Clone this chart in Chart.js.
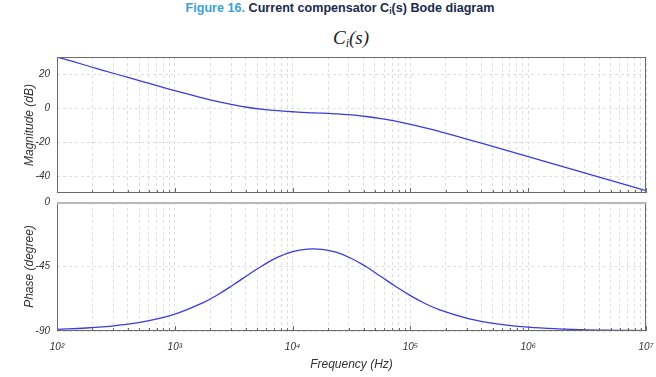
<!DOCTYPE html>
<html>
<head>
<meta charset="utf-8">
<script src="https://cdn.jsdelivr.net/npm/chart.js@4.4.1/dist/chart.umd.min.js"></script>
<style>
  body { margin: 0; width: 656px; height: 377px; background: #fff; position: relative; overflow: hidden;
         font-family: "Liberation Sans", Arial, sans-serif; }
  #fig { position: absolute; top: 1px; left: 0; width: 680px; text-align: center; font-size: 12.6px;
         font-weight: bold; color: #1b2a4e; }
  #fig .num { color: #3d9fd8; }
  #fig sub { font-size: 8.5px; vertical-align: -2px; }
  #math { position: absolute; top: 27px; left: 0; width: 702px; text-align: center; font-family: "Liberation Serif", serif;
          font-style: italic; font-size: 19px; color: #222; }
  #math sub { font-size: 12px; vertical-align: -3px; }
  .box { position: absolute; left: 0; width: 656px; }
  #magBox { top: 50px; height: 150px; }
  #phBox { top: 195px; height: 182px; }
</style>
</head>
<body>
<div id="fig"><span class="num">Figure 16.</span> Current compensator C<sub>i</sub>(s) Bode diagram</div>
<div id="math">C<sub>i</sub>(s)</div>
<div class="box" id="magBox"><canvas id="magChart"></canvas></div>
<div class="box" id="phBox"><canvas id="phChart"></canvas></div>
<script>
// frequency samples (Hz) and values
const freqs = [100, 178, 316, 562, 1000, 1778, 2371, 3162, 4217, 5623, 7499, 10000, 13335, 17783,
               23714, 31623, 42170, 56234, 74989, 100000, 133352, 177828, 316228, 562341,
               1000000, 1778279, 3162278, 5623413, 10000000];
const magnitudeDb = [30.0, 25.0, 20.0, 15.1, 10.2, 5.7, 3.6, 1.8, 0.3, -0.8, -1.6, -2.2, -2.7, -3.0,
                     -3.5, -4.1, -5.0, -6.2, -7.7, -9.6, -11.7, -13.9, -18.7, -23.6,
                     -28.6, -33.6, -38.6, -43.6, -48.6];
const phaseDeg = [-88.8, -87.9, -86.2, -83.3, -78.2, -69.8, -64.2, -57.6, -50.7, -44.1, -38.5, -34.6, -32.9, -33.1,
                  -35.2, -39.4, -45.2, -52.0, -58.9, -65.3, -70.8, -75.3, -81.5, -85.2,
                  -87.3, -88.5, -89.2, -89.5, -89.7];
const magTicks = [-40, -20, 0, 20];
const phaseTicks = [-90, -45, 0];
const xTicks = [];
for (let e = 2; e < 7; e++) for (let m = 1; m < 10; m++) xTicks.push(m * Math.pow(10, e));
xTicks.push(1e7);

const sup = { 2: '\u00b2', 3: '\u00b3', 4: '\u2074', 5: '\u2075', 6: '\u2076', 7: '\u2077' };
const isDecade = v => Math.abs(Math.log10(v) - Math.round(Math.log10(v))) < 1e-9;
const lineColor = '#3b3be0';
const gridColor = '#dedede';
const textColor = '#333';

const frame = {
  id: 'frame',
  afterDraw(chart, args, opts) {
    const { ctx, chartArea: a, scales: { x } } = chart;
    ctx.save();
    ctx.strokeStyle = '#6a6a6a';
    ctx.lineWidth = 1;
    ctx.strokeRect(a.left + .5, a.top + .5, a.width - 1, a.height - 1);
    x.ticks.forEach(t => {
      const px = Math.round(x.getPixelForValue(t.value)) + .5;
      ctx.beginPath();
      ctx.moveTo(px, a.bottom);
      ctx.lineTo(px, a.bottom - (isDecade(t.value) ? 5 : 3));
      ctx.stroke();
    });
    if (opts.topLine) {
      ctx.strokeStyle = '#b8b8b8';
      ctx.lineWidth = 2;
      ctx.beginPath();
      ctx.moveTo(a.left, a.top + 1);
      ctx.lineTo(a.right, a.top + 1);
      ctx.stroke();
    }
    ctx.restore();
  }
};

function makeChart(id, values, yMin, yMax, yTicks, yTitle, withXLabels, xHeight, topLine) {
  return new Chart(document.getElementById(id), {
    type: 'line',
    data: {
      datasets: [{
        data: freqs.map((f, i) => ({ x: f, y: values[i] })),
        borderColor: lineColor,
        borderWidth: 1.3,
        pointRadius: 0,
        tension: 0.4
      }]
    },
    options: {
      responsive: true,
      maintainAspectRatio: false,
      animation: false,
      layout: { padding: { top: 7, right: 10, left: 0, bottom: 0 } },
      plugins: { legend: { display: false }, tooltip: { enabled: false }, frame: { topLine } },
      scales: {
        x: {
          type: 'logarithmic',
          min: 100,
          max: 1e7,
          afterBuildTicks: s => { s.ticks = xTicks.map(v => ({ value: v })); },
          afterFit: s => { s.height = xHeight; s.paddingLeft = 0; s.paddingRight = 0; },
          grid: { color: gridColor, drawTicks: false },
          border: { display: false, dash: [3, 3] },
          ticks: {
            display: withXLabels,
            autoSkip: false,
            maxRotation: 0,
            padding: 10,
            color: textColor,
            font: { family: 'Liberation Sans', size: 10, style: 'italic' },
            callback: v => isDecade(v) ? '10' + sup[Math.round(Math.log10(v))] : ''
          },
          title: {
            display: withXLabels,
            text: 'Frequency (Hz)',
            color: textColor,
            font: { family: 'Liberation Sans', size: 12, style: 'italic' },
            padding: { top: 2, bottom: 5 }
          }
        },
        y: {
          min: yMin,
          max: yMax,
          afterBuildTicks: s => { s.ticks = yTicks.map(v => ({ value: v })); },
          afterFit: s => { s.width = 57; s.paddingTop = 0; s.paddingBottom = 0; },
          grid: { color: gridColor, drawTicks: false },
          border: { display: false, dash: [3, 3] },
          ticks: {
            padding: 7,
            color: textColor,
            font: { family: 'Liberation Sans', size: 10, style: 'italic' }
          },
          title: {
            display: true,
            text: yTitle,
            color: textColor,
            font: { family: 'Liberation Sans', size: 12, style: 'italic' },
            padding: { top: 22, bottom: 0 }
          }
        }
      }
    },
    plugins: [frame]
  });
}

makeChart('magChart', magnitudeDb, -50, 30, magTicks, 'Magnitude (dB)', false, 7, false);
makeChart('phChart', phaseDeg, -90, 0, phaseTicks, 'Phase (degree)', true, 46, true);
</script>
</body>
</html>
